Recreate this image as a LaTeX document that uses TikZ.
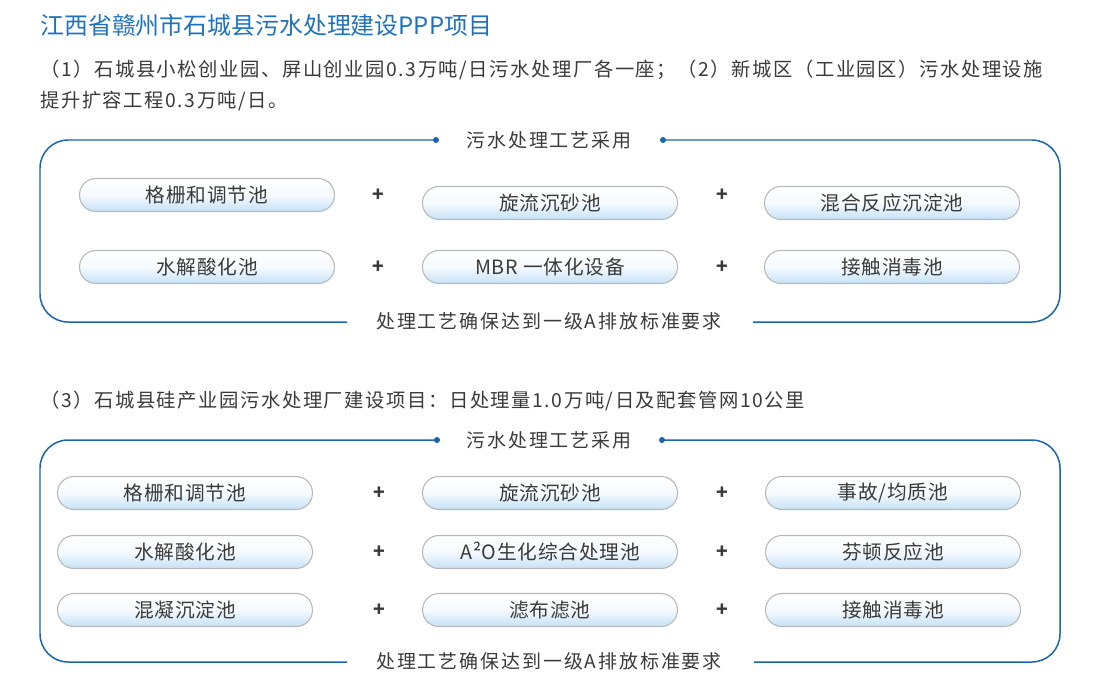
\documentclass[tikz,border=0pt]{standalone}
\usepackage{fontspec}
\setmainfont{Noto Sans CJK SC}
\newfontfamily\spaced[LetterSpace=10]{Noto Sans CJK SC}
\newfontfamily\headfont[LetterSpace=8]{Noto Sans CJK SC}
\newfontfamily\pillfont[LetterSpace=4]{Noto Sans CJK SC}
\definecolor{titleblue}{HTML}{1E72BE}
\definecolor{frameblue}{HTML}{1A64B0}
\definecolor{pillgray}{HTML}{B8B8B8}
\definecolor{pillblue}{HTML}{C4E2F7}
\definecolor{pillmid}{HTML}{F6FAFE}
\definecolor{txt}{HTML}{3A3A3A}
\begin{document}
\begin{tikzpicture}[x=0.02cm,y=-0.02cm,
  title/.style={anchor=west,inner sep=0,text=titleblue,font=\fontsize{13.6}{16}\selectfont},
  heading/.style={anchor=west,inner sep=0,text=txt,font=\headfont\fontsize{11}{13}\selectfont},
  boxlabel/.style={inner sep=0,text=txt,font=\spaced\fontsize{10.8}{13}\selectfont},
  pill/.style={draw=pillgray,line width=0.6pt,rounded corners=9.3pt,minimum width=5.1cm,minimum height=0.66cm,inner sep=0,
    top color=white,bottom color=pillblue,middle color=pillmid,text=txt,font=\pillfont\fontsize{11.2}{13}\selectfont},
  plus/.style={inner sep=0,text=txt,font=\fontsize{11}{13}\selectfont\bfseries},
  frame/.style={draw=frameblue,line width=0.85pt,rounded corners=16pt},
  dot/.style={circle,fill=frameblue,inner sep=0,minimum size=3.4pt}]
\useasboundingbox (0,0) rectangle (1100,690);

% title and headings
\node[title] (t) at (40,25) {江西省赣州市石城县污水处理建设PPP项目};
\node[heading] (h1) at (40,70) {（1）石城县小松创业园、屏山创业园0.3万吨/日污水处理厂各一座；（2）新城区（工业园区）污水处理设施};
\node[heading] (h2) at (40,101) {提升扩容工程0.3万吨/日。};
\node[heading] (h3) at (40,401) {（3）石城县硅产业园污水处理厂建设项目：日处理量1.0万吨/日及配套管网10公里};

% ---------- box 1 ----------
\node[boxlabel] (top1) at (549,140) {污水处理工艺采用};
\node[boxlabel] (bot1) at (549,321) {处理工艺确保达到一级A排放标准要求};
\node[dot] (d1a) at (436,140) {};
\node[dot] (d1b) at (663,140) {};
\coordinate (e1a) at (347,322);
\coordinate (e1b) at (753,322);
\draw[frame] (d1a.center) -- (40,140) -- (40,322) -- (e1a);
\draw[frame] (d1b.center) -- (1060,140) -- (1060,322) -- (e1b);

\node[pill] (p11) at (207,195) {格栅和调节池};
\node[pill] (p12) at (550,203) {旋流沉砂池};
\node[pill] (p13) at (892,203) {混合反应沉淀池};
\node[pill] (p21) at (207,267) {水解酸化池};
\node[pill] (p22) at (550,267) {MBR 一体化设备};
\node[pill] (p23) at (892,267) {接触消毒池};
\node[plus] (a11) at (378,195) {+};
\node[plus] (a12) at (722,195) {+};
\node[plus] (a21) at (378,267) {+};
\node[plus] (a22) at (722,267) {+};

% ---------- box 2 ----------
\node[boxlabel] (top2) at (549,440) {污水处理工艺采用};
\node[boxlabel] (bot2) at (549,661) {处理工艺确保达到一级A排放标准要求};
\node[dot] (d2a) at (437,440) {};
\node[dot] (d2b) at (662,440) {};
\coordinate (e2a) at (347,662);
\coordinate (e2b) at (754,662);
\draw[frame] (d2a.center) -- (40,440) -- (40,662) -- (e2a);
\draw[frame] (d2b.center) -- (1060,440) -- (1060,662) -- (e2b);

\node[pill] (q11) at (185,493) {格栅和调节池};
\node[pill] (q12) at (550,493) {旋流沉砂池};
\node[pill] (q13) at (893,493) {事故/均质池};
\node[pill] (q21) at (185,552) {水解酸化池};
\node[pill] (q22) at (550,552) {A²O生化综合处理池};
\node[pill] (q23) at (893,552) {芬顿反应池};
\node[pill] (q31) at (185,610) {混凝沉淀池};
\node[pill] (q32) at (550,610) {滤布滤池};
\node[pill] (q33) at (893,610) {接触消毒池};
\node[plus] (b11) at (379,493) {+};
\node[plus] (b12) at (722,493) {+};
\node[plus] (b21) at (379,552) {+};
\node[plus] (b22) at (722,552) {+};
\node[plus] (b31) at (379,610) {+};
\node[plus] (b32) at (722,610) {+};
\end{tikzpicture}
\end{document}
